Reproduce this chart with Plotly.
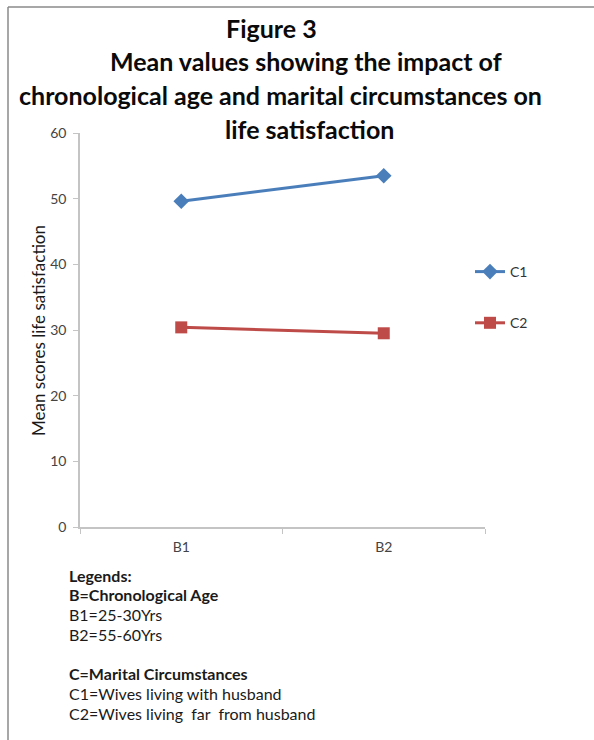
import plotly.graph_objects as go

categories = ["B1", "B2"]
c1_values = [49.6, 53.5]
c2_values = [30.4, 29.5]
series_names = ["C1", "C2"]
y_ticks = [0, 10, 20, 30, 40, 50, 60]

title_lines = [
    "Figure 3",
    "Mean values showing the impact of",
    "chronological age and marital circumstances on",
    "life satisfaction",
]
notes = [
    ("<b>Legends:</b>", 575),
    ("<b>B=Chronological Age</b>", 594),
    ("B1=25-30Yrs", 614),
    ("B2=55-60Yrs", 634),
    ("<b>C=Marital Circumstances</b>", 673),
    ("C1=Wives living with husband", 693),
    ("C2=Wives living&nbsp; far&nbsp; from husband", 713),
]

W, H = 594, 740
L, R, T, B = 80, 109, 133, 213
pw, ph = W - L - R, H - T - B

def px(x):
    return (x - L) / pw

def py(y):
    return (H - B - y) / ph

FONT = "Lato"

fig = go.Figure()
fig.add_trace(go.Scatter(
    x=categories, y=c1_values, name=series_names[0], mode="lines+markers",
    line=dict(color="#4A7EBB", width=3),
    marker=dict(symbol="diamond", size=12, color="#4A7EBB"),
    legendgroup="c1",
))
fig.add_trace(go.Scatter(
    x=categories, y=c2_values, name=series_names[1], mode="lines+markers",
    line=dict(color="#BE4B48", width=3),
    marker=dict(symbol="square", size=12, color="#BE4B48"),
    legendgroup="c2",
))

annotations = []
title_pos = [(271, 28), (306, 61), (280, 95), (309, 129)]
for text, (x, y) in zip(title_lines, title_pos):
    annotations.append(dict(
        text=f"<b>{text}</b>", x=px(x), y=py(y), xref="paper", yref="paper",
        xanchor="center", yanchor="middle", showarrow=False,
        font=dict(family=FONT, size=25, color="#0a0a0a"),
    ))
for text, y in notes:
    annotations.append(dict(
        text=text, x=px(67), y=py(y), xref="paper", yref="paper",
        xanchor="left", yanchor="middle", showarrow=False,
        font=dict(family=FONT, size=16, color="#1a1a1a"),
    ))
annotations.append(dict(
    text="Mean scores life satisfaction", x=px(38), y=py(331), xref="paper", yref="paper",
    xanchor="center", yanchor="middle", showarrow=False, textangle=-90,
    font=dict(family=FONT, size=17, color="#1a1a1a"),
))

shapes = [
    dict(type="line", xref="paper", yref="paper", x0=px(8), x1=px(594), y0=py(7), y1=py(7),
         line=dict(color="#8a8a8a", width=1.5)),
    dict(type="line", xref="paper", yref="paper", x0=px(8), x1=px(8), y0=py(7), y1=py(740),
         line=dict(color="#8a8a8a", width=1.5)),
]

fig.update_layout(
    width=W, height=H,
    margin=dict(l=L, r=R, t=T, b=B),
    paper_bgcolor="white", plot_bgcolor="white",
    font=dict(family=FONT, color="#333333"),
    showlegend=True,
    legend=dict(x=px(470), y=py(256), xanchor="left", yanchor="top",
                font=dict(family=FONT, size=14, color="#333333"),
                tracegroupgap=30, bgcolor="rgba(0,0,0,0)"),
    annotations=annotations,
    shapes=shapes,
    xaxis=dict(
        type="category", range=[-0.5, 1.5], showgrid=False,
        showline=True, linecolor="#c4c4c4", linewidth=1.5,
        ticks="outside", ticklen=5, tickcolor="#c4c4c4", tickson="boundaries",
        tickfont=dict(family=FONT, size=14, color="#444444"),
        ticklabelstandoff=6,
        zeroline=False,
    ),
    yaxis=dict(
        range=[0, 60], tickvals=y_ticks, showgrid=False,
        showline=True, linecolor="#c4c4c4", linewidth=1.5,
        ticks="outside", ticklen=5, tickcolor="#c4c4c4",
        tickfont=dict(family=FONT, size=14, color="#444444"),
        ticklabelstandoff=4,
        zeroline=False,
    ),
)

fig.write_html(
    "out.html",
    config={"displayModeBar": False},
    post_script="document.body.style.margin='0';document.body.style.overflow='hidden';",
)
